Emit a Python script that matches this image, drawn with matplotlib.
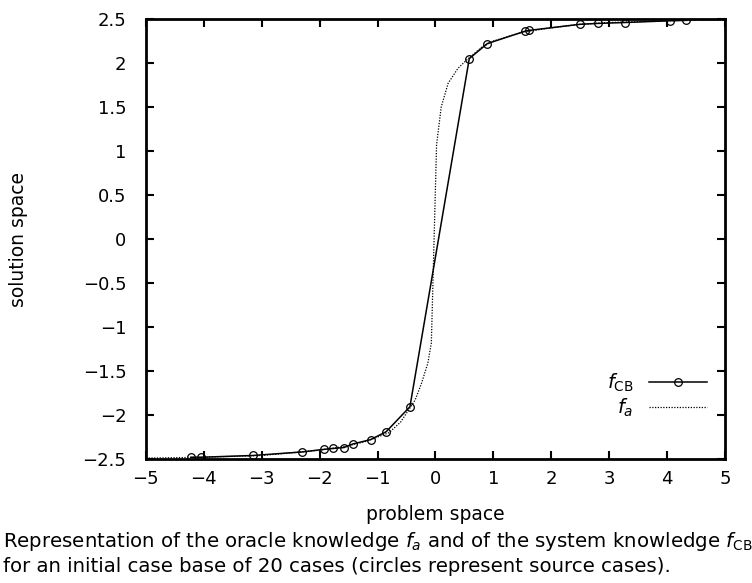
import numpy as np
import matplotlib
matplotlib.use("Agg")
import matplotlib.pyplot as plt

# source cases (f_CB)
cb_x = [-4.22, -4.04, -3.15, -2.30, -1.92, -1.76, -1.58, -1.43, -1.12, -0.85, -0.44,
        0.585, 0.895, 1.54, 1.61, 2.50, 2.81, 3.27, 4.05, 4.33]
cb_y = [-2.48, -2.48, -2.46, -2.42, -2.39, -2.38, -2.37, -2.33, -2.28, -2.19, -1.906,
        2.05, 2.22, 2.36, 2.37, 2.44, 2.45, 2.46, 2.48, 2.485]

# oracle knowledge f_a (dotted)
fa_x = [-5, -4, -3, -2.5, -2, -1.5, -1.2, -1.0, -0.8, -0.6, -0.45, -0.35, -0.24, -0.13, -0.07,
        0.02, 0.10, 0.22, 0.39, 0.55, 0.8, 1.0, 1.5, 2.0, 2.5, 3.0, 4.0, 5.0]
fa_y = [-2.49, -2.48, -2.46, -2.43, -2.40, -2.35, -2.30, -2.25, -2.20, -2.08, -1.93, -1.83, -1.64, -1.41, -1.18,
        1.07, 1.50, 1.77, 1.94, 2.04, 2.18, 2.25, 2.35, 2.40, 2.44, 2.46, 2.48, 2.49]

x_ticks = [-5, -4, -3, -2, -1, 0, 1, 2, 3, 4, 5]
y_ticks = [-2.5, -2, -1.5, -1, -0.5, 0, 0.5, 1, 1.5, 2, 2.5]

plt.rcParams['font.family'] = ['DejaVu Sans']
plt.rcParams['mathtext.fontset'] = 'dejavusans'

def lab(t):
    return ('%g' % t).replace('-', '\u2212')

fig = plt.figure(figsize=(7.52, 5.83), dpi=100)
ax = fig.add_axes([0.194, 0.2127, 0.77, 0.7547])

ax.plot(cb_x, cb_y, 'k-', lw=1.1, marker='o', markersize=5.5, markerfacecolor='none',
        markeredgewidth=0.9, label=r'$f_{\rm CB}$')
ax.plot(fa_x, fa_y, color='k', lw=0.9, linestyle=(0, (1, 1.2)), label=r'$f_a$')

ax.set_xlim(-5, 5)
ax.set_ylim(-2.5, 2.5)
ax.set_xticks(x_ticks)
ax.set_yticks(y_ticks)
ax.set_xticklabels([lab(t) for t in x_ticks])
ax.set_yticklabels([lab(t) for t in y_ticks])
ax.tick_params(direction='in', length=6, width=1.5, top=True, right=True, labelsize=13)
ax.tick_params(axis='y', pad=14)
ax.tick_params(axis='x', pad=8)
for s in ax.spines.values():
    s.set_linewidth(2)

ax.set_xlabel('problem space', fontsize=13.5, labelpad=12)
ax.set_ylabel('solution space', fontsize=13.5)
ax.yaxis.set_label_coords(-0.204, 0.5)

ax.legend(loc='lower right', bbox_to_anchor=(1.0, 0.05), frameon=False, markerfirst=False,
          fontsize=14, handlelength=3.0, labelspacing=0.15)

fig.text(0.004, 0.072, r'Representation of the oracle knowledge $f_a$ and of the system knowledge $f_{\rm CB}$',
         fontsize=14.2, ha='left', va='center')
fig.text(0.004, 0.029, 'for an initial case base of 20 cases (circles represent source cases).',
         fontsize=14.2, ha='left', va='center')

fig.savefig('out.png', dpi=100)
